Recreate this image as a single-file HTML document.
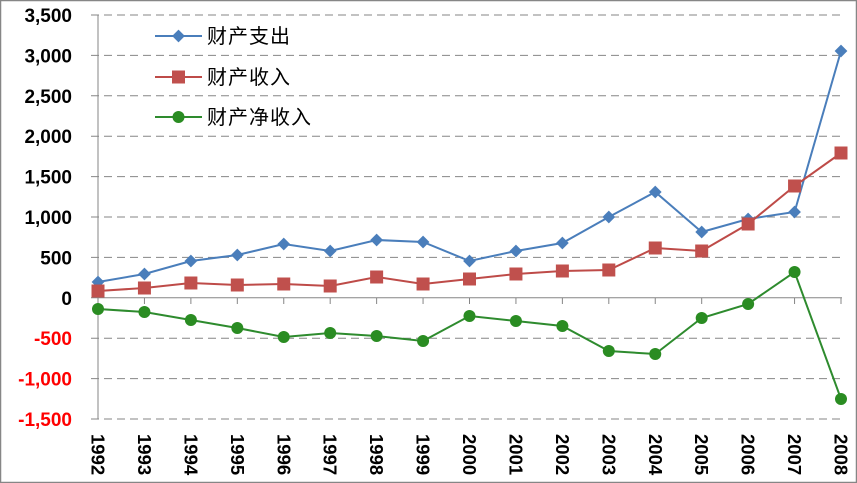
<!DOCTYPE html>
<html><head><meta charset="utf-8"><style>
body{margin:0;background:#fff}
svg{display:block}
</style></head><body>
<svg width="857" height="483" xmlns="http://www.w3.org/2000/svg" xmlns:xlink="http://www.w3.org/1999/xlink" font-family="'Liberation Sans','Noto Sans CJK SC',sans-serif">
<defs>
<rect id="d" x="-4.5" y="-4.5" width="9" height="9" fill="#4a7ebb" transform="rotate(45)"/>
<rect id="s" x="-6.5" y="-6.5" width="13" height="13" fill="#c0504d"/>
<circle id="c" r="6" fill="#2a8c22"/>
</defs>
<rect x="0.5" y="0.5" width="856" height="482" fill="#fff" stroke="#868686" stroke-width="1.5"/>
<g stroke="#868686" stroke-width="1" stroke-dasharray="8,5">
<line x1="91" y1="15" x2="842" y2="15"/>
<line x1="91" y1="55.4" x2="842" y2="55.4"/>
<line x1="91" y1="95.8" x2="842" y2="95.8"/>
<line x1="91" y1="136.2" x2="842" y2="136.2"/>
<line x1="91" y1="176.6" x2="842" y2="176.6"/>
<line x1="91" y1="217" x2="842" y2="217"/>
<line x1="91" y1="257.4" x2="842" y2="257.4"/>
<line x1="91" y1="338.2" x2="842" y2="338.2"/>
<line x1="91" y1="378.6" x2="842" y2="378.6"/>
<line x1="91" y1="419" x2="842" y2="419"/>
</g>
<line x1="98" y1="15" x2="98" y2="419" stroke="#868686"/>
<line x1="91" y1="297.8" x2="842" y2="297.8" stroke="#868686"/>
<path stroke="#868686" d="M98 298v6M144.44 298v6M190.88 298v6M237.31 298v6M283.75 298v6M330.19 298v6M376.63 298v6M423.06 298v6M469.5 298v6M515.94 298v6M562.38 298v6M608.81 298v6M655.25 298v6M701.69 298v6M748.13 298v6M794.56 298v6M841 298v6"/>
<g font-size="19" font-weight="bold" text-anchor="end">
<text x="72" y="22">3,500</text>
<text x="72" y="62.4">3,000</text>
<text x="72" y="102.8">2,500</text>
<text x="72" y="143.2">2,000</text>
<text x="72" y="183.6">1,500</text>
<text x="72" y="224">1,000</text>
<text x="72" y="264.4">500</text>
<text x="72" y="304.8">0</text>
<g fill="#ff0000">
<text x="72" y="345.2">-500</text>
<text x="72" y="385.6">-1,000</text>
<text x="72" y="426">-1,500</text>
</g>
</g>
<g font-size="18.5" font-weight="bold">
<text transform="translate(91.5,434) rotate(90)">1992</text>
<text transform="translate(137.94,434) rotate(90)">1993</text>
<text transform="translate(184.38,434) rotate(90)">1994</text>
<text transform="translate(230.81,434) rotate(90)">1995</text>
<text transform="translate(277.25,434) rotate(90)">1996</text>
<text transform="translate(323.69,434) rotate(90)">1997</text>
<text transform="translate(370.13,434) rotate(90)">1998</text>
<text transform="translate(416.56,434) rotate(90)">1999</text>
<text transform="translate(463,434) rotate(90)">2000</text>
<text transform="translate(509.44,434) rotate(90)">2001</text>
<text transform="translate(555.88,434) rotate(90)">2002</text>
<text transform="translate(602.31,434) rotate(90)">2003</text>
<text transform="translate(648.75,434) rotate(90)">2004</text>
<text transform="translate(695.19,434) rotate(90)">2005</text>
<text transform="translate(741.63,434) rotate(90)">2006</text>
<text transform="translate(788.06,434) rotate(90)">2007</text>
<text transform="translate(834.5,434) rotate(90)">2008</text>
</g>
<polyline fill="none" stroke="#4a7ebb" stroke-width="2" points="98,282 144.44,274 190.88,261 237.31,255 283.75,244 330.19,251 376.63,240 423.06,242 469.5,261 515.94,251 562.38,243 608.81,217 655.25,192 701.69,232 748.13,219 794.56,212 841,51"/>
<polyline fill="none" stroke="#be4b48" stroke-width="2" points="98,291 144.44,288 190.88,283 237.31,285 283.75,284 330.19,286 376.63,277 423.06,284 469.5,279 515.94,274 562.38,271 608.81,270 655.25,248 701.69,251 748.13,224 794.56,186 841,153"/>
<polyline fill="none" stroke="#2e8b2e" stroke-width="2" points="98,309 144.44,312 190.88,320 237.31,328 283.75,337 330.19,333 376.63,336 423.06,341 469.5,316 515.94,321 562.38,326 608.81,351 655.25,354 701.69,318 748.13,304 794.56,272 841,399"/>
<g>
<use xlink:href="#d" x="98" y="282"/><use xlink:href="#d" x="144.44" y="274"/><use xlink:href="#d" x="190.88" y="261"/><use xlink:href="#d" x="237.31" y="255"/><use xlink:href="#d" x="283.75" y="244"/><use xlink:href="#d" x="330.19" y="251"/><use xlink:href="#d" x="376.63" y="240"/><use xlink:href="#d" x="423.06" y="242"/><use xlink:href="#d" x="469.5" y="261"/><use xlink:href="#d" x="515.94" y="251"/><use xlink:href="#d" x="562.38" y="243"/><use xlink:href="#d" x="608.81" y="217"/><use xlink:href="#d" x="655.25" y="192"/><use xlink:href="#d" x="701.69" y="232"/><use xlink:href="#d" x="748.13" y="219"/><use xlink:href="#d" x="794.56" y="212"/><use xlink:href="#d" x="841" y="51"/>
<use xlink:href="#s" x="98" y="291"/><use xlink:href="#s" x="144.44" y="288"/><use xlink:href="#s" x="190.88" y="283"/><use xlink:href="#s" x="237.31" y="285"/><use xlink:href="#s" x="283.75" y="284"/><use xlink:href="#s" x="330.19" y="286"/><use xlink:href="#s" x="376.63" y="277"/><use xlink:href="#s" x="423.06" y="284"/><use xlink:href="#s" x="469.5" y="279"/><use xlink:href="#s" x="515.94" y="274"/><use xlink:href="#s" x="562.38" y="271"/><use xlink:href="#s" x="608.81" y="270"/><use xlink:href="#s" x="655.25" y="248"/><use xlink:href="#s" x="701.69" y="251"/><use xlink:href="#s" x="748.13" y="224"/><use xlink:href="#s" x="794.56" y="186"/><use xlink:href="#s" x="841" y="153"/>
<use xlink:href="#c" x="98" y="309"/><use xlink:href="#c" x="144.44" y="312"/><use xlink:href="#c" x="190.88" y="320"/><use xlink:href="#c" x="237.31" y="328"/><use xlink:href="#c" x="283.75" y="337"/><use xlink:href="#c" x="330.19" y="333"/><use xlink:href="#c" x="376.63" y="336"/><use xlink:href="#c" x="423.06" y="341"/><use xlink:href="#c" x="469.5" y="316"/><use xlink:href="#c" x="515.94" y="321"/><use xlink:href="#c" x="562.38" y="326"/><use xlink:href="#c" x="608.81" y="351"/><use xlink:href="#c" x="655.25" y="354"/><use xlink:href="#c" x="701.69" y="318"/><use xlink:href="#c" x="748.13" y="304"/><use xlink:href="#c" x="794.56" y="272"/><use xlink:href="#c" x="841" y="399"/>
</g>
<g font-size="20" fill="#000">
<line x1="155" y1="36" x2="202" y2="36" stroke="#4a7ebb" stroke-width="2"/>
<use xlink:href="#d" x="178.5" y="36"/>
<text x="207" y="43" letter-spacing="1">财产支出</text>
<line x1="155" y1="77" x2="202" y2="77" stroke="#be4b48" stroke-width="2"/>
<use xlink:href="#s" x="178.5" y="77"/>
<text x="207" y="84" letter-spacing="1">财产收入</text>
<line x1="155" y1="117" x2="202" y2="117" stroke="#2e8b2e" stroke-width="2"/>
<use xlink:href="#c" x="178.5" y="117"/>
<text x="207" y="124" letter-spacing="1">财产净收入</text>
</g>
</svg>
</body></html>
